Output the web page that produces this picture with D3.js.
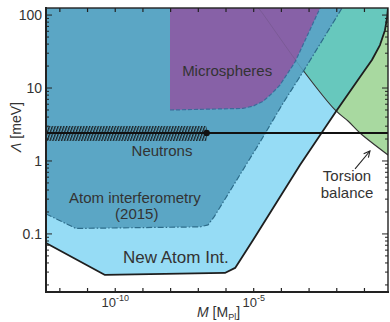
<!DOCTYPE html>
<html><head><meta charset="utf-8">
<script src="https://cdn.jsdelivr.net/npm/d3@7"></script>
<style>
body{margin:0;background:#fff}
svg{display:block}
text{font-family:"Liberation Sans",Arial,Helvetica,sans-serif;fill:#333}
</style>
</head><body>
<svg id="c" width="390" height="322"></svg>
<script>
// ---- data (M in Planck masses, Lambda in meV) ----
const xDomain = [3.16e-13, 0.708];
const yDomain = [0.016, 125];

const newAtomM = [3.16e-13, 4.27e-11, 9.1e-7, 2.14e-6, 9.5e-6, 4.7e-4, 1.02e-2, 0.069, 0.186, 0.363, 0.55, 0.653, 0.708];
const newAtomL = [0.075, 0.0274, 0.0292, 0.0342, 0.0828, 0.88, 5.0, 14.2, 24.2, 38.8, 62, 91, 125];

const atomM = [3.16e-13, 3.8e-12, 1.15e-7, 2.24e-7, 3.7e-7, 1.7e-5, 1.15e-4, 6.0e-4, 0.0155];
const atomL = [0.188, 0.119, 0.125, 0.133, 0.171, 1.82, 6.2, 16.6, 125];

const microM = [9.5e-9, 9.5e-9, 4.1e-6, 1.0e-5, 2.2e-5, 4.5e-5, 8.9e-5, 3.1e-4, 2.5e-3];
const microL = [125, 5.0, 5.25, 5.7, 6.6, 8.4, 11.0, 22.7, 125];

const torsionM = [1.45e-5, 1.7e-5, 6.0e-4, 8.7e-3, 0.0255, 0.069, 0.708];
const torsionL = [125, 117, 17.6, 5.0, 3.53, 2.42, 1.21];

const neutronL = 2.42;
const neutronHatchEndM = 2.0e-7;

const yTickLabels = [0.1, 1, 10, 100];
const xTickLabels = [{v: 1e-10, exp: "-10"}, {v: 1e-5, exp: "-5"}];

const labels = [
  {t: "Microspheres", m: 1.1e-6, l: 14.6, size: 15},
  {t: "Neutrons", m: 4.9e-9, l: 1.17, size: 15},
  {t: "Atom interferometry", m: 5.1e-10, l: 0.266, size: 15},
  {t: "(2015)", m: 6.0e-10, l: 0.16, size: 15},
  {t: "New Atom Int.", m: 1.55e-8, l: 0.040, size: 17},
  {t: "Torsion", m: 0.0235, l: 0.53, size: 15},
  {t: "balance", m: 0.0235, l: 0.315, size: 15}
];
const arrowFrom = [0.0457, 0.777], arrowTo = [0.158, 1.37];

// ---- scales ----
const x = d3.scaleLog().domain(xDomain).range([46, 388]);
const y = d3.scaleLog().domain(yDomain).range([292, 8]);

const svg = d3.select("#c");
const defs = svg.append("defs");
defs.append("clipPath").attr("id", "plot").append("rect")
  .attr("x", 46).attr("y", 8).attr("width", 342).attr("height", 284);

const zip = (a, b) => a.map((v, i) => [v, b[i]]);
const lin = d3.line().x(d => x(d[0])).y(d => y(d[1]));
const crv = d3.line().x(d => x(d[0])).y(d => y(d[1])).curve(d3.curveCatmullRom.alpha(0.5));

const newAtomPts = zip(newAtomM, newAtomL);
const newAtomPoly = newAtomPts.concat([[xDomain[1], yDomain[1]], [xDomain[0], yDomain[1]]]);
const torsionPts = zip(torsionM, torsionL);
const torsionPoly = torsionPts.concat([[xDomain[1], yDomain[1]]]);
const atomPts = zip(atomM, atomL);
const atomPoly = atomPts.concat([[xDomain[0], yDomain[1]]]);
const microPts = zip(microM, microL);

defs.append("clipPath").attr("id", "newAtomClip").append("path")
  .attr("d", lin(newAtomPoly) + "Z");

const g = svg.append("g").attr("clip-path", "url(#plot)");

// New atom int region
g.append("path").attr("d", lin(newAtomPoly) + "Z").attr("fill", "#96dcf5");
// Torsion balance region
g.append("path").attr("d", lin(torsionPoly) + "Z").attr("fill", "#a8d9a0");
// overlap -> teal
g.append("g").attr("clip-path", "url(#newAtomClip)")
  .append("path").attr("d", lin(torsionPoly) + "Z").attr("fill", "#67c8bd");
// torsion curve (beneath overlays)
g.append("path").attr("d", crv(torsionPts)).attr("fill", "none")
  .attr("stroke", "#333").attr("stroke-width", 1.1);
// Atom interferometry 2015
g.append("path").attr("d", lin(atomPoly) + "Z").attr("fill", "#5ba6c5");
g.append("path").attr("d", lin(atomPts)).attr("fill", "none")
  .attr("stroke", "#2d6c8a").attr("stroke-width", 1.2).attr("stroke-dasharray", "6,2,1.5,2");
// Microspheres
g.append("path").attr("d", lin(microPts) + "Z").attr("fill", "#8a5ca5").attr("fill-opacity", 0.94);
g.append("path").attr("d", lin(microPts.slice(1))).attr("fill", "none")
  .attr("stroke", "#3d6b9a").attr("stroke-width", 1.2).attr("stroke-dasharray", "4,2");
// torsion segment faintly through purple
g.append("path").attr("d", crv(torsionPts)).attr("fill", "none")
  .attr("stroke", "#333").attr("stroke-width", 0.8).attr("stroke-opacity", 0.18);
// New atom boundary line
g.append("path").attr("d", lin(newAtomPts)).attr("fill", "none")
  .attr("stroke", "#1e1e1e").attr("stroke-width", 1.8).attr("stroke-linejoin", "round");

// Neutrons
const pat = defs.append("pattern").attr("id", "hatch").attr("patternUnits", "userSpaceOnUse")
  .attr("width", 2.7).attr("height", 10).attr("patternTransform", "rotate(20)");
pat.append("line").attr("x1", 0.7).attr("x2", 0.7).attr("y1", 0).attr("y2", 10)
  .attr("stroke", "#111").attr("stroke-width", 1.2);
const ny = y(neutronL);
g.append("rect").attr("x", x(xDomain[0])).attr("y", ny - 7)
  .attr("width", x(neutronHatchEndM) - x(xDomain[0])).attr("height", 15)
  .attr("fill", "url(#hatch)");
g.append("line").attr("x1", x(xDomain[0])).attr("x2", x(xDomain[1]))
  .attr("y1", ny).attr("y2", ny).attr("stroke", "#111").attr("stroke-width", 2);
g.append("circle").attr("cx", x(neutronHatchEndM)).attr("cy", ny).attr("r", 3.2).attr("fill", "#111");

// labels
labels.forEach(d => {
  svg.append("text").attr("x", x(d.m)).attr("y", y(d.l))
    .attr("text-anchor", "middle").attr("font-size", d.size).text(d.t);
});
// arrow
defs.append("marker").attr("id", "arr").attr("viewBox", "0 0 10 10").attr("refX", 9).attr("refY", 5)
  .attr("markerWidth", 7).attr("markerHeight", 7).attr("orient", "auto")
  .append("path").attr("d", "M1,1L9,5L1,9").attr("fill", "none").attr("stroke", "#222").attr("stroke-width", 1.4);
svg.append("line").attr("x1", x(arrowFrom[0])).attr("y1", y(arrowFrom[1]))
  .attr("x2", x(arrowTo[0])).attr("y2", y(arrowTo[1]))
  .attr("stroke", "#222").attr("stroke-width", 1.1).attr("marker-end", "url(#arr)");

// ---- axes ----
const ax = svg.append("g").attr("stroke", "#222");
const isMajor = v => Math.abs(Math.log10(v) - Math.round(Math.log10(v))) < 1e-6;
y.ticks().forEach(v => {
  const yy = y(v), len = isMajor(v) ? 6 : 3;
  ax.append("line").attr("x1", 46).attr("x2", 46 + len).attr("y1", yy).attr("y2", yy).attr("stroke-width", 1);
  ax.append("line").attr("x1", 388).attr("x2", 388 - len).attr("y1", yy).attr("y2", yy).attr("stroke-width", 1);
});
x.ticks().filter(isMajor).forEach(v => {
  const xx = x(v);
  ax.append("line").attr("x1", xx).attr("x2", xx).attr("y1", 292).attr("y2", 288).attr("stroke-width", 1.2);
  ax.append("line").attr("x1", xx).attr("x2", xx).attr("y1", 8).attr("y2", 12).attr("stroke-width", 1.2);
});
ax.append("rect").attr("x", 46).attr("y", 8).attr("width", 342).attr("height", 284)
  .attr("fill", "none").attr("stroke-width", 1.4);
ax.append("line").attr("x1", 46).attr("x2", 46).attr("y1", 7).attr("y2", 293).attr("stroke-width", 2);
ax.append("line").attr("x1", 45).attr("x2", 389).attr("y1", 292).attr("y2", 292).attr("stroke-width", 1.8);

yTickLabels.forEach(v => {
  svg.append("text").attr("x", 42).attr("y", y(v)).attr("dy", "0.36em")
    .attr("text-anchor", "end").attr("font-size", 14).text(v);
});
xTickLabels.forEach(d => {
  const t = svg.append("text").attr("x", x(d.v)).attr("y", 307).attr("text-anchor", "middle").attr("font-size", 13);
  t.append("tspan").text("10");
  t.append("tspan").attr("font-size", 9).attr("dy", -6).text(d.exp);
});
const xl = svg.append("text").attr("x", 197).attr("y", 317).attr("font-size", 14);
xl.append("tspan").attr("font-style", "italic").text("M");
xl.append("tspan").text(" [M");
xl.append("tspan").attr("font-size", 9).attr("dy", 2.5).text("Pl");
xl.append("tspan").attr("dy", -2.5).text("]");

const yl = svg.append("text").attr("transform", "translate(21,127) rotate(-90)")
  .attr("text-anchor", "middle").attr("font-size", 14);
yl.append("tspan").attr("font-style", "italic").text("Λ");
yl.append("tspan").text(" [meV]");
</script>
</body></html>
